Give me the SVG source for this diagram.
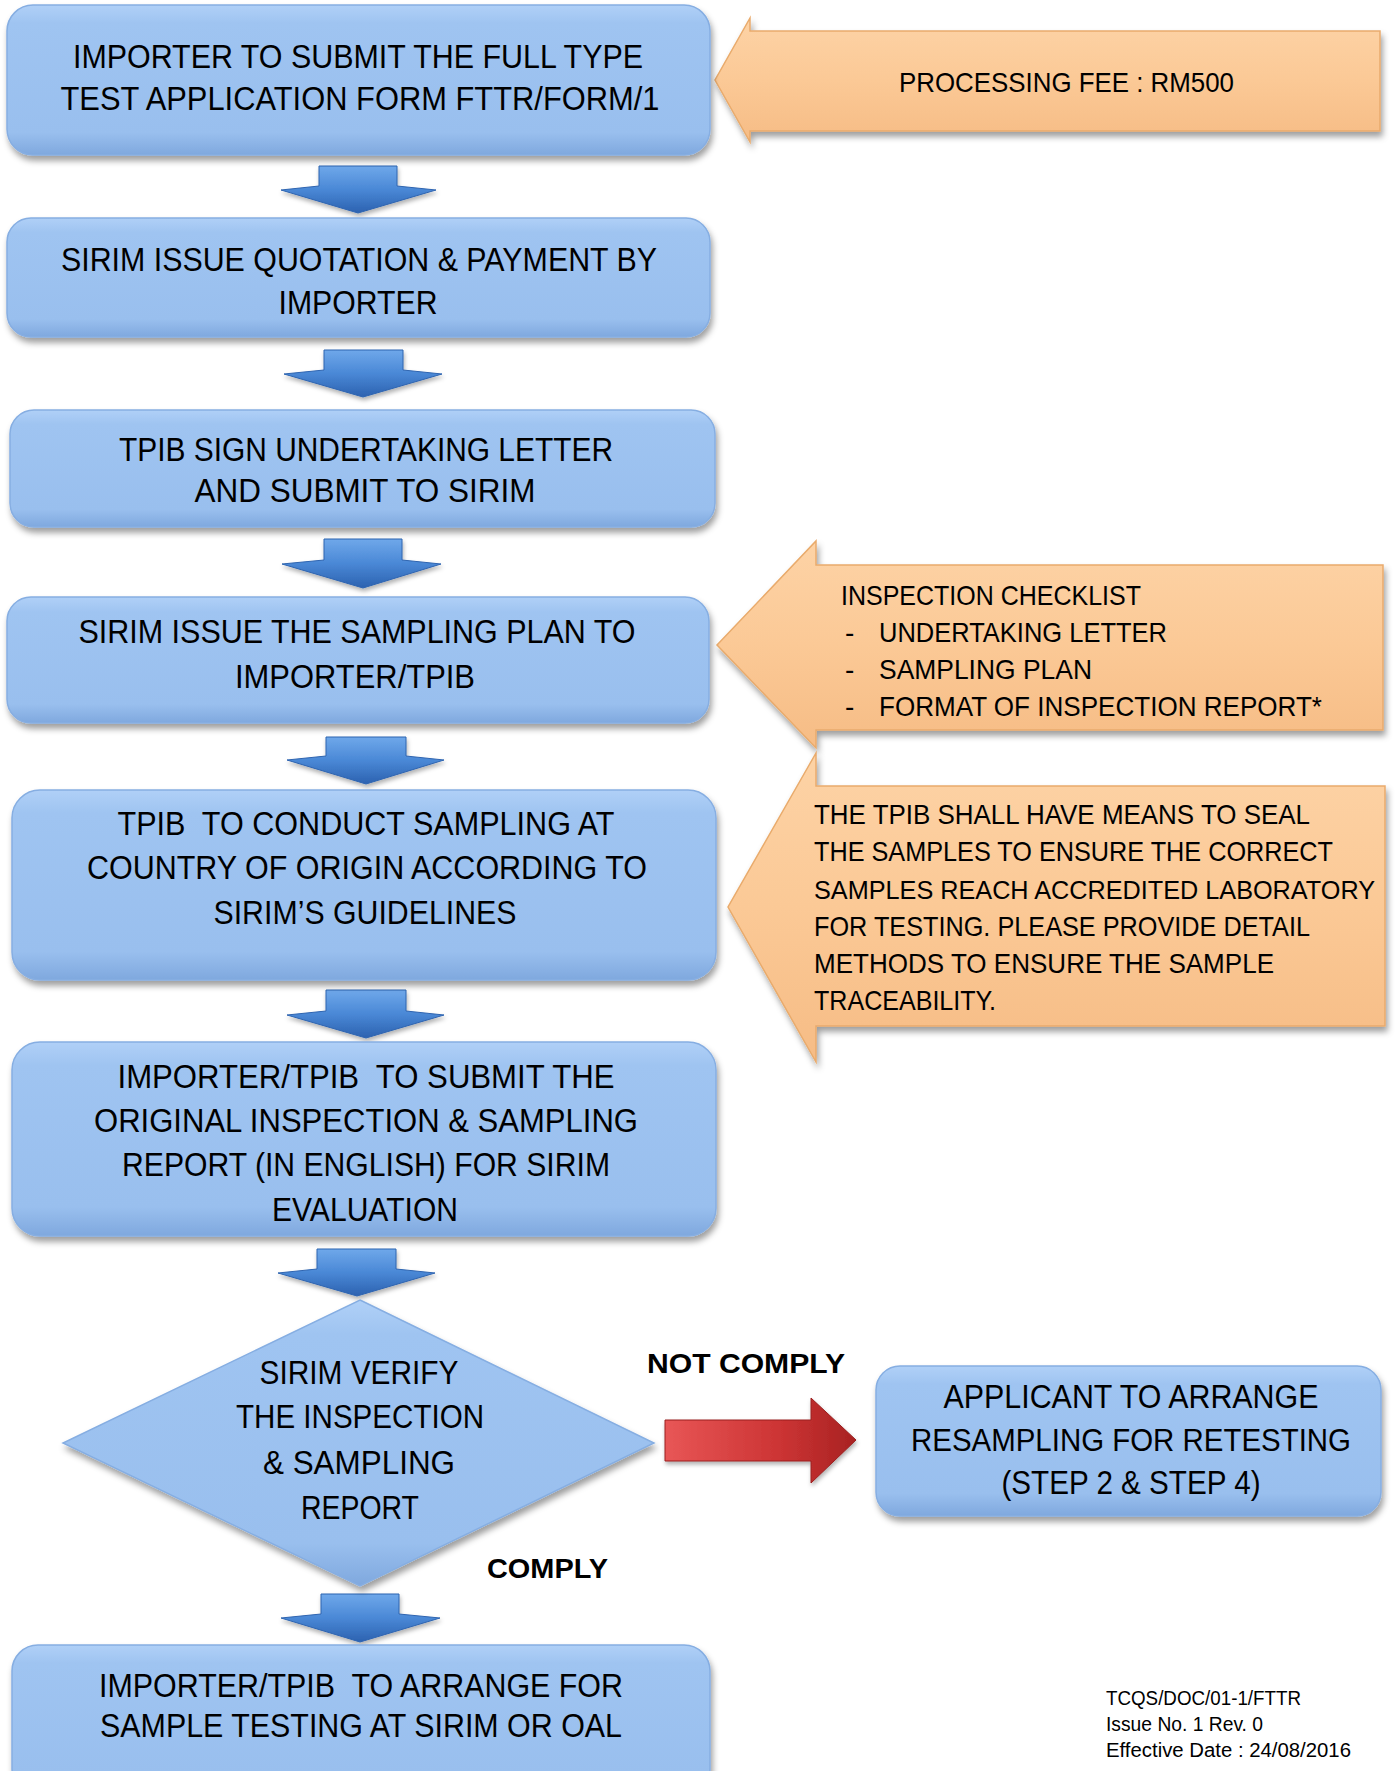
<svg xmlns="http://www.w3.org/2000/svg" width="1395" height="1771" viewBox="0 0 1395 1771">
<defs>
<linearGradient id="gBlue" x1="0" y1="0" x2="0" y2="1">
<stop offset="0" stop-color="#B0D0F7"/><stop offset="0.12" stop-color="#9FC4F1"/><stop offset="0.85" stop-color="#99BFEE"/><stop offset="1" stop-color="#7FA8DE"/>
</linearGradient>
<linearGradient id="gOrange" x1="0" y1="0" x2="0" y2="1">
<stop offset="0" stop-color="#FDD3A6"/><stop offset="0.5" stop-color="#FBC996"/><stop offset="1" stop-color="#F6BC85"/>
</linearGradient>
<linearGradient id="gArrow" x1="0" y1="0" x2="0" y2="1">
<stop offset="0" stop-color="#6FA8EA"/><stop offset="0.5" stop-color="#4A88D6"/><stop offset="1" stop-color="#2C62B0"/>
</linearGradient>
<linearGradient id="gRed" x1="0" y1="0" x2="1" y2="0">
<stop offset="0" stop-color="#E85656"/><stop offset="0.6" stop-color="#CC3434"/><stop offset="1" stop-color="#A82222"/>
</linearGradient>
<filter id="sh" x="-5%" y="-10%" width="115%" height="135%">
<feDropShadow dx="2" dy="5" stdDeviation="3" flood-color="#000" flood-opacity="0.38"/>
</filter>
<filter id="sh2" x="-10%" y="-10%" width="130%" height="140%">
<feDropShadow dx="1" dy="3" stdDeviation="2" flood-color="#000" flood-opacity="0.3"/>
</filter>
</defs>
<style>
.box{fill:url(#gBlue);stroke:#86AEE2;stroke-width:1.5;filter:url(#sh)}
.call{fill:url(#gOrange);stroke:#E9AB6C;stroke-width:1.5;filter:url(#sh)}
.arr{fill:url(#gArrow);stroke:#2E64B0;stroke-width:1;filter:url(#sh2)}
.t{font-family:"Liberation Sans",Arial,sans-serif;font-size:34px;fill:#000;text-anchor:middle}
.c{font-family:"Liberation Sans",Arial,sans-serif;font-size:28px;fill:#000}
.b{font-family:"Liberation Sans",Arial,sans-serif;font-size:27px;font-weight:bold;fill:#000}
.f{font-family:"Liberation Sans",Arial,sans-serif;font-size:20px;fill:#000}
.pre{white-space:pre}
</style>
<rect width="1395" height="1771" fill="#FFFFFF"/>

<g id="connectors">
<polygon class="arr" points="319,166 397,166 397,186 436,190 358,213 281,190 319,186"/>
<polygon class="arr" points="324,350 403,350 403,370 442,374 363,397 284,374 324,370"/>
<polygon class="arr" points="324,539 402,539 402,560 441,564 363,588 282,564 324,560"/>
<polygon class="arr" points="326,737 406,737 406,756 444,760 366,784 287,760 326,756"/>
<polygon class="arr" points="326,990 406,990 406,1011 444,1015 366,1038 287,1015 326,1011"/>
<polygon class="arr" points="317,1249 396,1249 396,1269 435,1273 357,1296 278,1273 317,1269"/>
<polygon class="arr" points="321,1594 399,1594 399,1614 440,1618 360,1642 281,1618 321,1614"/>
<polygon points="665,1420 811,1420 811,1398 856,1440 811,1483 811,1461 665,1461" fill="url(#gRed)" stroke="#9A1E1E" stroke-width="1" filter="url(#sh2)"/>
<text class="b" x="647" y="1373" textLength="198" lengthAdjust="spacingAndGlyphs">NOT COMPLY</text>
<text class="b" x="487" y="1578" textLength="121" lengthAdjust="spacingAndGlyphs">COMPLY</text>
</g>

<g id="fee">
<polygon class="call" points="1380,31 750,31 750,18 715,80 750,142 750,131 1380,131"/>
<text class="c" x="899" y="92" textLength="335" lengthAdjust="spacingAndGlyphs">PROCESSING FEE : RM500</text>
</g>

<g id="checklist">
<polygon class="call" points="1383,565 816,565 816,541 717,645 816,748 816,730 1383,730"/>
<text class="c" x="841" y="605" textLength="300" lengthAdjust="spacingAndGlyphs">INSPECTION CHECKLIST</text>
<text class="c" x="845" y="642">-</text>
<text class="c" x="879" y="642" textLength="288" lengthAdjust="spacingAndGlyphs">UNDERTAKING LETTER</text>
<text class="c" x="845" y="679">-</text>
<text class="c" x="879" y="679" textLength="213" lengthAdjust="spacingAndGlyphs">SAMPLING PLAN</text>
<text class="c" x="845" y="716">-</text>
<text class="c" x="879" y="716" textLength="443" lengthAdjust="spacingAndGlyphs">FORMAT OF INSPECTION REPORT*</text>
</g>

<g id="seal">
<polygon class="call" points="1385,786 816,786 816,753 728,907 816,1062 816,1026 1385,1026"/>
<text class="c" x="814" y="824" textLength="496" lengthAdjust="spacingAndGlyphs">THE TPIB SHALL HAVE MEANS TO SEAL</text>
<text class="c" x="814" y="861" textLength="519" lengthAdjust="spacingAndGlyphs">THE SAMPLES TO ENSURE THE CORRECT</text>
<text class="c" x="814" y="899" textLength="561" lengthAdjust="spacingAndGlyphs" style="font-size:25px">SAMPLES REACH ACCREDITED LABORATORY</text>
<text class="c" x="814" y="936" textLength="496" lengthAdjust="spacingAndGlyphs">FOR TESTING. PLEASE PROVIDE DETAIL</text>
<text class="c" x="814" y="973" textLength="460" lengthAdjust="spacingAndGlyphs">METHODS TO ENSURE THE SAMPLE</text>
<text class="c" x="814" y="1010" textLength="182" lengthAdjust="spacingAndGlyphs">TRACEABILITY.</text>
</g>

<g id="step1">
<rect class="box" x="7" y="5" width="703" height="150" rx="26"/>
<text class="t" x="358" y="68" textLength="570" lengthAdjust="spacingAndGlyphs">IMPORTER TO SUBMIT THE FULL TYPE</text>
<text class="t" x="360" y="110" textLength="599" lengthAdjust="spacingAndGlyphs">TEST APPLICATION FORM FTTR/FORM/1</text>
</g>

<g id="step2">
<rect class="box" x="7" y="218" width="703" height="119" rx="24"/>
<text class="t" x="359" y="271" textLength="596" lengthAdjust="spacingAndGlyphs">SIRIM ISSUE QUOTATION &amp; PAYMENT BY</text>
<text class="t" x="358" y="314" textLength="159" lengthAdjust="spacingAndGlyphs">IMPORTER</text>
</g>

<g id="step3">
<rect class="box" x="10" y="410" width="705" height="117" rx="24"/>
<text class="t" x="366" y="461" textLength="494" lengthAdjust="spacingAndGlyphs">TPIB SIGN UNDERTAKING LETTER</text>
<text class="t" x="365" y="502" textLength="341" lengthAdjust="spacingAndGlyphs">AND SUBMIT TO SIRIM</text>
</g>

<g id="step4">
<rect class="box" x="7" y="597" width="702" height="126" rx="24"/>
<text class="t" x="357" y="643" textLength="557" lengthAdjust="spacingAndGlyphs">SIRIM ISSUE THE SAMPLING PLAN TO</text>
<text class="t" x="355" y="688" textLength="240" lengthAdjust="spacingAndGlyphs">IMPORTER/TPIB</text>
</g>

<g id="step5">
<rect class="box" x="12" y="790" width="704" height="190" rx="28"/>
<text class="t pre" x="366" y="835" textLength="497" lengthAdjust="spacingAndGlyphs">TPIB  TO CONDUCT SAMPLING AT</text>
<text class="t" x="367" y="879" textLength="560" lengthAdjust="spacingAndGlyphs">COUNTRY OF ORIGIN ACCORDING TO</text>
<text class="t" x="365" y="924" textLength="303" lengthAdjust="spacingAndGlyphs">SIRIM’S GUIDELINES</text>
</g>

<g id="step6">
<rect class="box" x="12" y="1042" width="704" height="194" rx="28"/>
<text class="t pre" x="366" y="1088" textLength="497" lengthAdjust="spacingAndGlyphs">IMPORTER/TPIB  TO SUBMIT THE</text>
<text class="t" x="366" y="1132" textLength="544" lengthAdjust="spacingAndGlyphs">ORIGINAL INSPECTION &amp; SAMPLING</text>
<text class="t" x="366" y="1176" textLength="488" lengthAdjust="spacingAndGlyphs">REPORT (IN ENGLISH) FOR SIRIM</text>
<text class="t" x="365" y="1221" textLength="186" lengthAdjust="spacingAndGlyphs">EVALUATION</text>
</g>

<g id="decision">
<polygon class="box" points="360,1300 654,1443 360,1586 63,1443"/>
<text class="t" x="359" y="1384" textLength="199" lengthAdjust="spacingAndGlyphs">SIRIM VERIFY</text>
<text class="t" x="360" y="1428" textLength="248" lengthAdjust="spacingAndGlyphs">THE INSPECTION</text>
<text class="t" x="359" y="1474" textLength="192" lengthAdjust="spacingAndGlyphs">&amp; SAMPLING</text>
<text class="t" x="360" y="1519" textLength="118" lengthAdjust="spacingAndGlyphs">REPORT</text>
</g>

<g id="resample">
<rect class="box" x="876" y="1366" width="505" height="150" rx="24"/>
<text class="t" x="1131" y="1408" textLength="375" lengthAdjust="spacingAndGlyphs">APPLICANT TO ARRANGE</text>
<text class="t" x="1131" y="1451" textLength="440" lengthAdjust="spacingAndGlyphs" style="font-size:32px">RESAMPLING FOR RETESTING</text>
<text class="t" x="1131" y="1494" textLength="259" lengthAdjust="spacingAndGlyphs">(STEP 2 &amp; STEP 4)</text>
</g>

<g id="step8">
<rect class="box" x="12" y="1645" width="698" height="150" rx="26"/>
<text class="t pre" x="361" y="1697" textLength="524" lengthAdjust="spacingAndGlyphs">IMPORTER/TPIB  TO ARRANGE FOR</text>
<text class="t" x="361" y="1737" textLength="522" lengthAdjust="spacingAndGlyphs">SAMPLE TESTING AT SIRIM OR OAL</text>
</g>

<g id="footer">
<text class="f" x="1106" y="1705" textLength="195" lengthAdjust="spacingAndGlyphs">TCQS/DOC/01-1/FTTR</text>
<text class="f" x="1106" y="1731" textLength="157" lengthAdjust="spacingAndGlyphs">Issue No. 1 Rev. 0</text>
<text class="f" x="1106" y="1757" textLength="245" lengthAdjust="spacingAndGlyphs">Effective Date : 24/08/2016</text>
</g>
</svg>
